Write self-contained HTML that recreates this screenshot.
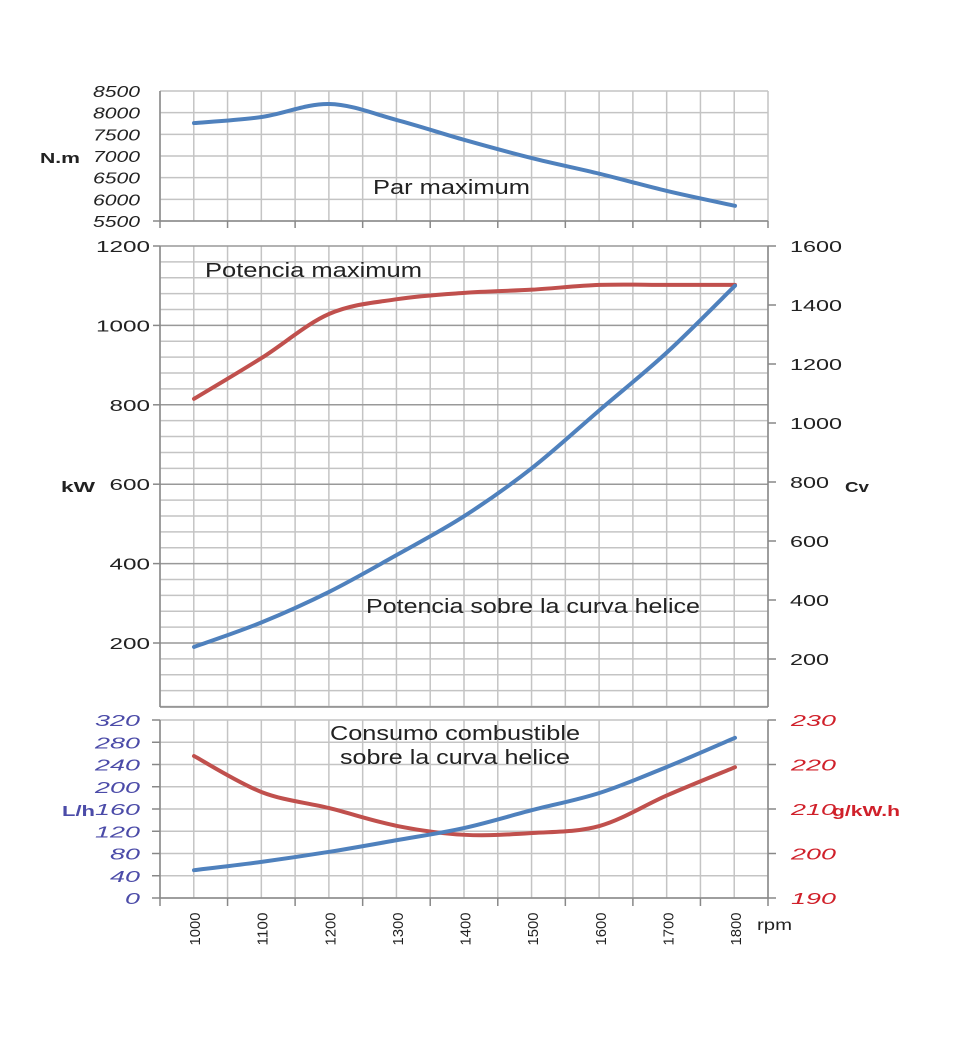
<!DOCTYPE html>
<html><head><meta charset="utf-8"><style>
html,body{margin:0;padding:0;background:#fff;}
svg{display:block;font-family:"Liberation Sans",sans-serif;}
</style></head><body>
<svg id="chart" width="958" height="1063" viewBox="0 0 958 1063" xmlns="http://www.w3.org/2000/svg"></svg>
<script>
const rpm = [1000,1100,1200,1300,1400,1500,1600,1700,1800];
const torque = [7760,7900,8200,7830,7370,6950,6590,6190,5850];
const powerMax = [815,918,1029,1066,1082,1090,1102,1102,1102];
const powerProp = [190,252,329,422,520,641,787,933,1100];
const fuelLh = [50,65,83,104,126,158,189,236,288];
const fuelGkwh = [221.9,213.8,210.2,206.2,204.2,204.6,206.2,213.1,219.4];
const torqueTicks = [5500,6000,6500,7000,7500,8000,8500];
const kwTicks = [200,400,600,800,1000,1200];
const cvTicks = [200,400,600,800,1000,1200,1400,1600];
const lhTicks = [0,40,80,120,160,200,240,280,320];
const gTicks = [190,200,210,220,230];

const svg = document.getElementById('chart');
const NS = 'http://www.w3.org/2000/svg';
function mk(tag, attrs, parent){const e=document.createElementNS(NS,tag);for(const k in attrs)e.setAttribute(k,attrs[k]);(parent||svg).appendChild(e);return e;}
const X0=160,X1=768;
const x = r => 194 + (r-1000)*(735-194)/800;
const yT = v => 91 + (8500-v)*(221-91)/3000;
const yK = v => 246 + (1200-v)*(643-246)/1000;
const yC = v => 246 + (1600-v)*(305-246)/200;
const yL = v => 898 - v*(898-720)/320;
const yG = v => 898 - (v-190)*(898-720)/40;

function path(xs, ys){
  const p = xs.map((a,i)=>[a,ys[i]]);
  let d = 'M'+p[0][0]+','+p[0][1];
  for(let i=0;i<p.length-1;i++){
    const p0=p[Math.max(0,i-1)],p1=p[i],p2=p[i+1],p3=p[Math.min(p.length-1,i+2)];
    const c1=[p1[0]+(p2[0]-p0[0])/6,p1[1]+(p2[1]-p0[1])/6];
    const c2=[p2[0]-(p3[0]-p1[0])/6,p2[1]-(p3[1]-p1[1])/6];
    d+=' C'+c1+' '+c2+' '+p2;
  }
  return d;
}
function vgrid(y0,y1){
  for(let i=0;i<=18;i++){const gx=X0+i*(X1-X0)/18;
    const l=mk('line',{x1:gx,x2:gx,y1:y0,y2:y1,stroke:'#c4c4c4','stroke-width':1.5});
    
    }
}
function hline(y,c,w){const l=mk('line',{x1:X0,x2:X1,y1:y,y2:y,stroke:c,'stroke-width':w});
  
  }
function txt(s,tx,ty,opt,len){const o=Object.assign({x:tx,y:ty,'font-size':15,fill:'#222'},opt||{});
  if(len){o.textLength=len;o.lengthAdjust='spacingAndGlyphs';}
  const t=mk('text',o);t.textContent=s;return t;}
function series(vals,yf,color,name){
  const p=mk('path',{d:path(rpm.map(x),vals.map(yf)),fill:'none',stroke:color,'stroke-width':4,'stroke-linecap':'round'});
  
  
}
const BLUE='#4f81bd',RED='#c0504d';

// ---------- TOP PANEL ----------
vgrid(91,221);
for(const v of torqueTicks){hline(yT(v),'#c4c4c4',1.5);
  const t=txt(String(v),140,yT(v)+6,{'text-anchor':'end','font-style':'italic','font-size':16},String(v).length*11.75);
  
  }
mk('line',{x1:X0,x2:X0,y1:91,y2:221,stroke:'#888','stroke-width':1.5});
mk('line',{x1:X0,x2:X1,y1:221,y2:221,stroke:'#888','stroke-width':1.5});
for(let i=0;i<=9;i++){const tx=X0+i*(X1-X0)/9;mk('line',{x1:tx,x2:tx,y1:221,y2:228,stroke:'#888','stroke-width':1.5});}
mk('line',{x1:X0-7,x2:X0,y1:221,y2:221,stroke:'#888','stroke-width':1.5});
let t=txt('N.m',40,163,{'font-weight':'bold','font-size':15},40);
t=txt('Par maximum',373,194,{'font-size':20},157);
series(torque,yT,BLUE,'torque-line');

// ---------- MIDDLE PANEL ----------
vgrid(246,707);
for(let v=40;v<=1200;v+=40){hline(yK(v),v%200===0?'#999':'#c4c4c4',1.5);}
mk('line',{x1:X0,x2:X0,y1:246,y2:707,stroke:'#888','stroke-width':1.5});
mk('line',{x1:X1,x2:X1,y1:246,y2:707,stroke:'#888','stroke-width':1.5});
mk('line',{x1:X0,x2:X1,y1:707,y2:707,stroke:'#888','stroke-width':1.5});
for(const v of kwTicks){mk('line',{x1:X0-7,x2:X0,y1:yK(v),y2:yK(v),stroke:'#888','stroke-width':1.5});
  const tt=txt(String(v),150,yK(v)+6,{'text-anchor':'end','font-size':16},String(v).length*13.5);
  
  }
for(const v of cvTicks){mk('line',{x1:X1,x2:X1+8,y1:yC(v),y2:yC(v),stroke:'#888','stroke-width':1.5});
  const tt=txt(String(v),790,yC(v)+6,{'font-size':16},String(v).length*13);
  
  }
t=txt('kW',61,492,{'font-weight':'bold'},34);
t=txt('Cv',845,492,{'font-weight':'bold'},24);
t=txt('Potencia maximum',205,277,{'font-size':20},217);
t=txt('Potencia sobre la curva helice',366,613,{'font-size':20},334);
series(powerMax,yK,RED,'max-power-line');
series(powerProp,yK,BLUE,'propeller-power-line');

// ---------- BOTTOM PANEL ----------
vgrid(720,898);
for(const v of lhTicks){hline(yL(v),'#c4c4c4',1.5);
  mk('line',{x1:X0-8,x2:X0,y1:yL(v),y2:yL(v),stroke:'#888','stroke-width':1.5});
  const tt=txt(String(v),140,yL(v)+6,{'text-anchor':'end','font-style':'italic','font-size':16,fill:'#4b4ba8'},String(v).length*15);
  
  }
for(const v of gTicks){mk('line',{x1:X1,x2:X1+8,y1:yG(v),y2:yG(v),stroke:'#888','stroke-width':1.5});
  const tt=txt(String(v),791,yG(v)+6,{'font-style':'italic','font-size':16,fill:'#d0202a'},45);
  
  }
mk('line',{x1:X0,x2:X0,y1:720,y2:898,stroke:'#888','stroke-width':1.5});
mk('line',{x1:X1,x2:X1,y1:720,y2:898,stroke:'#888','stroke-width':1.5});
mk('line',{x1:X0,x2:X1,y1:898,y2:898,stroke:'#888','stroke-width':1.5});
for(let i=0;i<=9;i++){const tx=X0+i*(X1-X0)/9;mk('line',{x1:tx,x2:tx,y1:898,y2:906,stroke:'#888','stroke-width':1.5});}
t=txt('L/h',62,816,{'font-weight':'bold',fill:'#4b4ba8'},33);
t=txt('g/kW.h',832,816,{'font-weight':'bold',fill:'#d0202a'},68);
t=txt('Consumo combustible',330,740,{'font-size':20},250);
t=txt('sobre la curva helice',340,764,{'font-size':20},230);
series(fuelGkwh,yG,RED,'fuel-specific-line');
series(fuelLh,yL,BLUE,'fuel-flow-line');

for(const r of rpm){const tt=txt(String(r),0,0,{'font-size':15,'text-anchor':'middle',transform:'translate('+(x(r)+6)+',929) rotate(-90)'},33);
  
  }
t=txt('rpm',757,930,{'font-size':16},35);
</script>
</body></html>
